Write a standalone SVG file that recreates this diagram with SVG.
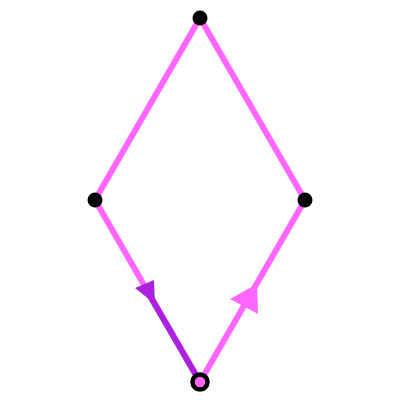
<svg xmlns="http://www.w3.org/2000/svg" width="400" height="400" viewBox="0 0 400 400">
<style>
.edge{stroke:#ff66ff;stroke-width:6;fill:none}
.walk{stroke:#aa22dd;stroke-width:6;fill:none}
.dot{fill:#000}
</style>
<rect width="400" height="400" fill="#fff"/>
<g id="connectors">
<path class="edge" d="M200,18 L95,200 L200,382 L305,200 Z"/>
<path class="walk" d="M200,382 L150,296"/>
<polygon fill="#aa22dd" points="135,288 154,280 155,304"/>
<polygon fill="#ff66ff" points="230,299 257,284 258,314"/>
</g>
<g id="top"><circle class="dot" cx="200" cy="18" r="7.5"/></g>
<g id="left"><circle class="dot" cx="95" cy="200" r="7.5"/></g>
<g id="right"><circle class="dot" cx="305" cy="200" r="7.5"/></g>
<g id="bottom"><circle cx="200" cy="382" r="7.5" fill="#ff66ff" stroke="#000" stroke-width="4.5"/></g>
</svg>
